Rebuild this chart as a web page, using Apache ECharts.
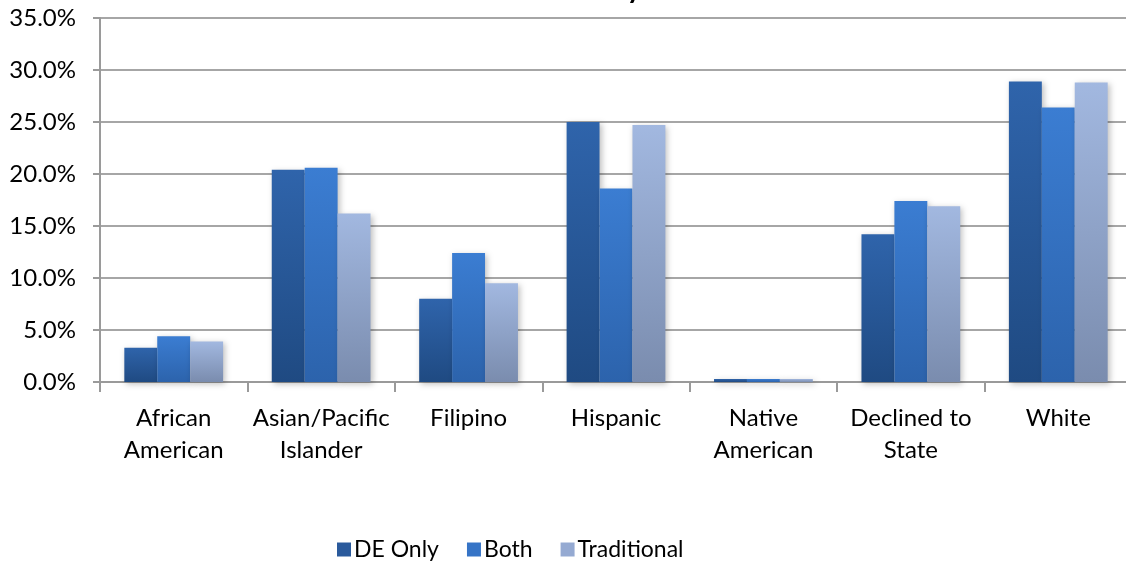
<!DOCTYPE html>
<html><head><meta charset="utf-8">
<script src="https://cdn.jsdelivr.net/npm/echarts@6/dist/echarts.min.js"></script>
<style>html,body{margin:0;padding:0;background:#fff}#c{width:1126px;height:566px}</style>
</head><body><div id="c"></div>
<script>
const categories = ['African\nAmerican','Asian/Pacific\nIslander','Filipino','Hispanic','Native\nAmerican','Declined to\nState','White'];
const seriesNames = ['DE Only','Both','Traditional'];
const deOnly = [3.3, 20.4, 8.0, 25.0, 0.3, 14.2, 28.9];
const both = [4.4, 20.6, 12.4, 18.6, 0.3, 17.4, 26.4];
const traditional = [3.9, 16.2, 9.5, 24.7, 0.3, 16.9, 28.8];
const yTicks = [0,5,10,15,20,25,30,35];

const FONT = 'Lato';
function grad(top, bottom){
  return new echarts.graphic.LinearGradient(0,0,0,1,[{offset:0,color:top},{offset:1,color:bottom}]);
}
const colors = [grad('#2f64ab','#1f4a82'), grad('#3b7dd2','#2c63ac'), grad('#a2b8e0','#7a8cae')];
const legendColors = ['#2a5a9c','#3674c6','#95aad2'];
const chart = echarts.init(document.getElementById('c'));
const mk = (name, data, i) => ({
  name, type:'bar', data, barGap:'0%', barCategoryGap:'33%',
  itemStyle:{color:colors[i], shadowColor:'rgba(0,0,0,0.25)', shadowBlur:6, shadowOffsetX:2, shadowOffsetY:2},
  emphasis:{disabled:true}
});
chart.setOption({
  animation:false,
  title:{text:'Ethnicity', left:526, top:-30, textStyle:{fontFamily:FONT, fontSize:28, fontWeight:'bold', color:'#000'}},
  grid:{left:100, width:1032, top:18, bottom:184, containLabel:false, outerBoundsMode:'none'},
  legend:{bottom:0, left:332, itemWidth:14, itemHeight:14, itemGap:28,
    icon:'rect',
    textStyle:{fontFamily:FONT, fontSize:23, color:'#000', padding:[0,0,0,-2]},
    data: seriesNames.map((n,i)=>({name:n, itemStyle:{color:legendColors[i]}}))},
  xAxis:{type:'category', data:categories,
    axisLine:{lineStyle:{color:'#9a9a9a', width:2}},
    axisTick:{show:true, length:10, lineStyle:{color:'#9a9a9a', width:2}},
    axisLabel:{fontFamily:FONT, fontSize:24, color:'#000', lineHeight:32, margin:20, interval:0}},
  yAxis:{type:'value', min:0, max:35, interval:5,
    axisLine:{show:true, lineStyle:{color:'#9a9a9a', width:2}},
    axisTick:{show:true, length:7, lineStyle:{color:'#9a9a9a', width:2}},
    splitLine:{lineStyle:{color:'#a6a6a6', width:2}},
    axisLabel:{fontFamily:FONT, fontSize:24, color:'#000', margin:24, formatter:v=>v.toFixed(1)+'%'}},
  series:[mk(seriesNames[0], deOnly, 0), mk(seriesNames[1], both, 1), mk(seriesNames[2], traditional, 2)]
});
</script></body></html>
